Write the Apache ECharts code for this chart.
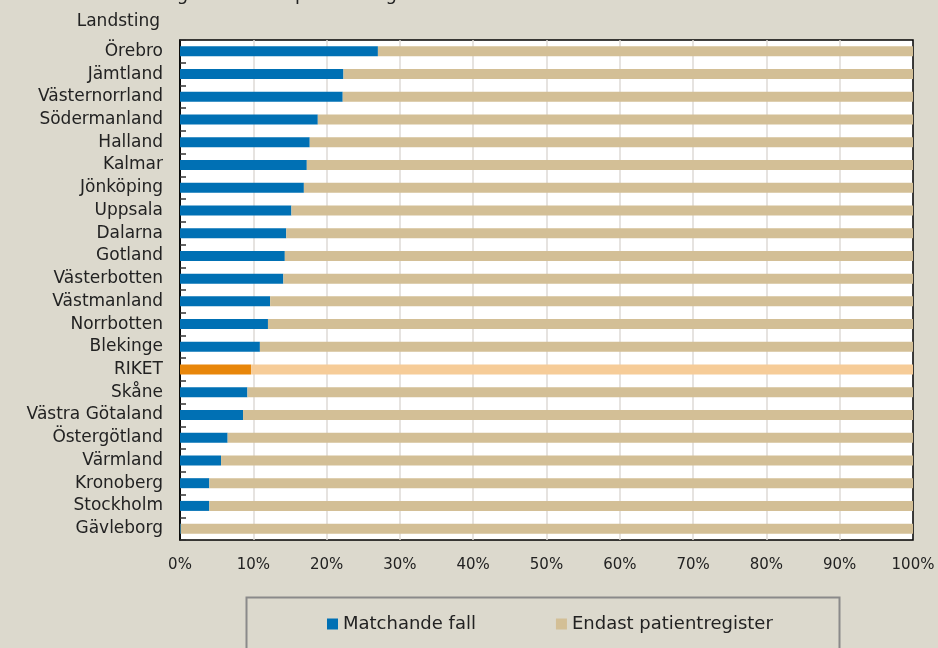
<!DOCTYPE html>
<html lang="sv" style="height: 100%">
<head>
  <meta charset="utf-8">
</head>
<body style="height: 100%; margin: 0; background: #dcd9cd">
  <div id="container" style="width: 938px; height: 648px"></div>

  <script type="text/javascript" src="https://fastly.jsdelivr.net/npm/echarts@6/dist/echarts.min.js"></script>
  <script type="text/javascript">
    var landsting = ['Örebro', 'Jämtland', 'Västernorrland', 'Södermanland', 'Halland', 'Kalmar',
      'Jönköping', 'Uppsala', 'Dalarna', 'Gotland', 'Västerbotten', 'Västmanland', 'Norrbotten',
      'Blekinge', 'RIKET', 'Skåne', 'Västra Götaland', 'Östergötland', 'Värmland', 'Kronoberg',
      'Stockholm', 'Gävleborg'];
    // andel matchande fall, procent
    var matchande = [27.0, 22.3, 22.2, 18.8, 17.7, 17.3, 16.9, 15.2, 14.5, 14.3, 14.1, 12.3, 12.0,
      10.9, 9.7, 9.2, 8.6, 6.5, 5.6, 4.0, 4.0, 0.1];
    var endast = matchande.map(function (v) { return +(100 - v).toFixed(1); });

    var dom = document.getElementById('container');
    var myChart = echarts.init(dom, null, { renderer: 'canvas' });
    var font = 'DejaVu Sans';

    function withRiket(values, riket) {
      return values.map(function (v, i) {
        return landsting[i] === 'RIKET'
          ? { value: v, itemStyle: { color: riket } }
          : v;
      });
    }

    var option = {
      backgroundColor: '#dcd9cd',
      animation: false,
      textStyle: { fontFamily: font },
      grid: {
        left: 180, right: 25, top: 40, bottom: 108,
        show: true,
        backgroundColor: '#ffffff',
        borderColor: '#000000',
        borderWidth: 1.5
      },
      legend: {
        left: 322,
        top: 610,
        itemGap: 80,
        itemWidth: 11,
        itemHeight: 11,
        icon: 'rect',
        textStyle: { fontFamily: font, fontSize: 18, color: '#222' },
        data: ['Matchande fall', 'Endast patientregister']
      },
      xAxis: {
        type: 'value',
        min: 0, max: 100, interval: 10,
        axisLine: { show: false },
        axisTick: { show: false },
        axisLabel: { formatter: '{value}%', fontSize: 15, color: '#222', margin: 18, fontFamily: font },
        splitLine: { showMinLine: false, showMaxLine: false, lineStyle: { color: '#dedad6', width: 1.5 } }
      },
      yAxis: {
        type: 'category',
        inverse: true,
        data: landsting,
        axisLine: { show: true, lineStyle: { color: '#000', width: 1.5 } },
        axisTick: { show: true, inside: true, length: 6, lineStyle: { color: '#333', width: 1.5 } },
        axisLabel: { fontSize: 17, color: '#222', margin: 17, fontFamily: font }
      },
      series: [
        {
          name: 'Matchande fall',
          type: 'bar',
          stack: 'tot',
          barWidth: 10,
          itemStyle: { color: '#0070b4' },
          data: withRiket(matchande, '#e8860a')
        },
        {
          name: 'Endast patientregister',
          type: 'bar',
          stack: 'tot',
          barWidth: 10,
          itemStyle: { color: '#d3bf96' },
          data: withRiket(endast, '#f6cc98')
        }
      ],
      graphic: [
        {
          type: 'text', left: 26, top: -14,
          style: { text: 'BUSA eller till något av de respektive registren under 2016.',
            font: '18px ' + font, fill: '#222' }
        },
        {
          type: 'text', right: 778, top: 13,
          style: { text: 'Landsting', font: '17px ' + font, fill: '#222' }
        },
        {
          type: 'rect', left: 244, top: 595,
          shape: { width: 593, height: 70 },
          style: { fill: 'none', stroke: '#8a8a8a', lineWidth: 2 }
        }
      ]
    };

    myChart.setOption(option);
    window.addEventListener('resize', myChart.resize);
  </script>
</body>
</html>
